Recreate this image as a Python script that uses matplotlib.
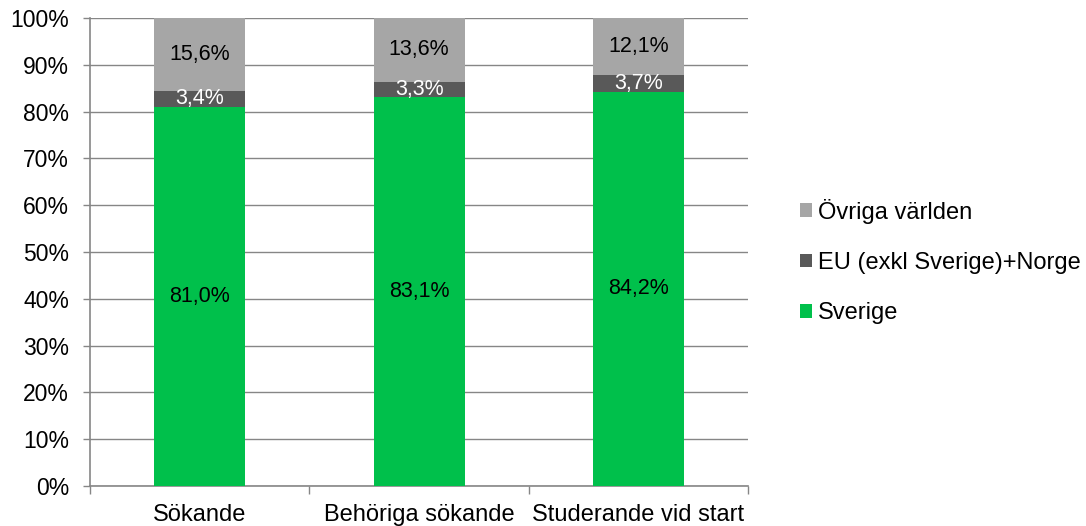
import matplotlib.pyplot as plt
import numpy as np

categories = ["Sökande", "Behöriga sökande", "Studerande vid start"]
series_names = ["Sverige", "EU (exkl Sverige)+Norge", "Övriga världen"]
sverige = [81.0, 83.1, 84.2]
eu_norge = [3.4, 3.3, 3.7]
ovriga = [15.6, 13.6, 12.1]
y_ticks = list(range(0, 101, 10))

colors = ["#00C04B", "#595959", "#A6A6A6"]
label_colors = ["black", "white", "black"]
grid_color = "#868686"

plt.rcParams["font.family"] = ["Liberation Sans", "DejaVu Sans"]

fig = plt.figure(figsize=(10.86, 5.26), dpi=100)
ax = fig.add_axes([0.0829, 0.076, 0.606, 0.8898])

x = np.arange(len(categories))
bottom = np.zeros(len(categories))
handles = []
for name, vals, col, lc in zip(series_names, [sverige, eu_norge, ovriga], colors, label_colors):
    vals = np.array(vals)
    bars = ax.bar(x, vals, width=0.415, bottom=bottom, color=col, label=name, zorder=3)
    handles.append(bars)
    for xi, b, v in zip(x, bottom, vals):
        ax.text(xi, b + v / 2, f"{v:.1f}%".replace(".", ","), ha="center", va="center",
                color=lc, fontsize=15.5, zorder=4)
    bottom += vals

ax.set_xlim(-0.5, len(categories) - 0.5)
ax.set_ylim(0, 100)
ax.set_yticks(y_ticks)
ax.set_yticklabels([f"{t}%" for t in y_ticks], fontsize=16.5)
ax.yaxis.grid(True, color=grid_color, linewidth=1, zorder=0)

ax.set_xticks(x)
ax.set_xticklabels(categories, fontsize=17)
ax.set_xticks(np.arange(-0.5, len(categories) + 0.5, 1), minor=True)
ax.tick_params(axis="x", which="major", length=0, pad=13)
ax.tick_params(axis="x", which="minor", length=6, color=grid_color, width=1)
ax.tick_params(axis="y", length=5, color=grid_color, width=1, pad=10)

for side in ["top", "right"]:
    ax.spines[side].set_visible(False)
for side in ["left", "bottom"]:
    ax.spines[side].set_color(grid_color)
    ax.spines[side].set_linewidth(1.2)

leg = fig.legend(handles[::-1], series_names[::-1], loc="center left",
                 bbox_to_anchor=(0.717, 0.503), frameon=False, fontsize=17,
                 handlelength=0.5, handleheight=0.5, handletextpad=0.25,
                 labelspacing=1.2)

fig.savefig("out.png", dpi=100)
